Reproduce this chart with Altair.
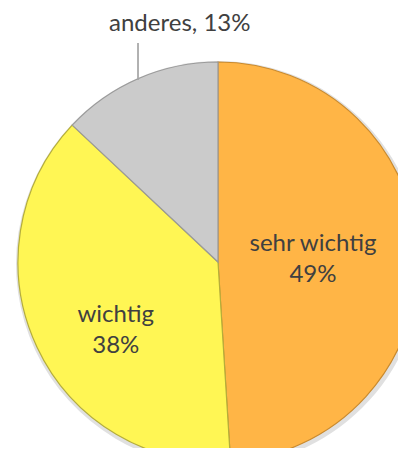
import altair as alt
import pandas as pd

categories = ["sehr wichtig", "wichtig", "anderes"]
values = [49, 38, 13]
labels = ["sehr wichtig\n49%", "wichtig\n38%", "anderes, 13%"]
fill_colors = ["#FFB546", "#FFF654", "#CBCBCB"]
edge_colors = ["#C98A2E", "#B5AE3A", "#9A9A9A"]

df = pd.DataFrame({
    "category": categories,
    "value": values,
    "label": labels,
    "idx": list(range(len(categories))),
})

CX, CY, R = 210, 254, 200
TXT = "#404040"
FONT = "Lato"

base = alt.Chart(df).encode(
    theta=alt.Theta("value:Q", stack=True),
    order=alt.Order("idx:Q"),
    x=alt.value(CX),
    y=alt.value(CY),
)

shadow = alt.Chart(df).mark_arc(outerRadius=R + 3, color="#000000", opacity=0.12).encode(
    theta=alt.Theta("value:Q", stack=True),
    order=alt.Order("idx:Q"),
    x=alt.value(CX + 1),
    y=alt.value(CY + 2),
)

arcs = base.mark_arc(outerRadius=R, strokeWidth=1.2).encode(
    color=alt.Color("category:N", scale=alt.Scale(domain=categories, range=fill_colors), legend=None),
    stroke=alt.Stroke("category:N", scale=alt.Scale(domain=categories, range=edge_colors), legend=None),
)

def label_layer(cat, radius, dx, dy):
    return base.mark_text(
        radius=radius, dx=dx, dy=dy, font=FONT, fontSize=24, color=TXT,
        lineBreak="\n", lineHeight=31, align="center", baseline="middle",
    ).encode(
        text=alt.condition(alt.datum.category == cat, alt.Text("label:N"), alt.value(""))
    )

t1 = label_layer("sehr wichtig", 95, 0, -15)
t2 = label_layer("wichtig", 113, 0, 5)
t3 = label_layer("anderes", 265, 67, 5)

leader = alt.Chart(df).mark_rule(color="#A6A6A6", strokeWidth=1).encode(
    x=alt.value(130), y=alt.value(35), y2=alt.value(72)
)

chart = alt.layer(shadow, arcs, leader, t1, t2, t3).properties(
    width=390, height=440, padding=0, autosize=alt.AutoSizeParams(type="none")
).configure_view(stroke=None)

chart.save("out.html", embed_options={"renderer": "svg", "actions": False})
